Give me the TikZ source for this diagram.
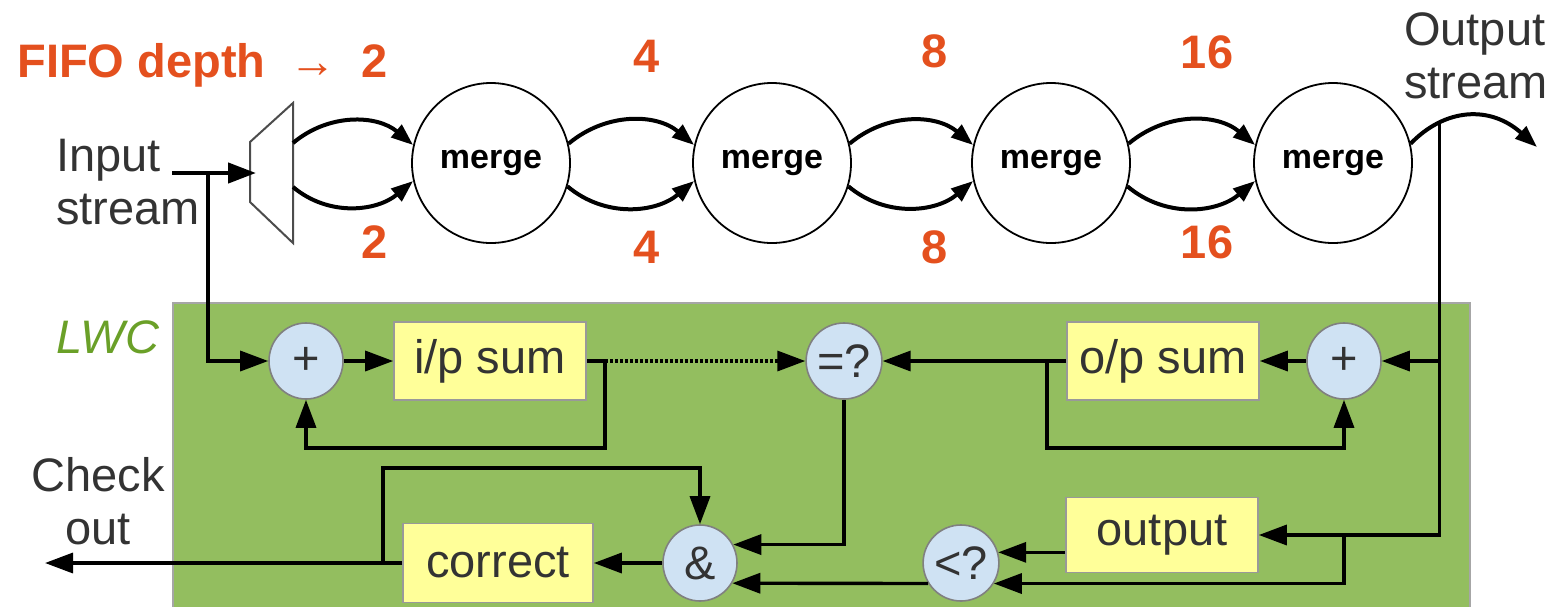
\documentclass[tikz,border=0pt]{standalone}
\usepackage{fontspec}
\setmainfont{Liberation Sans}
\usetikzlibrary{arrows.meta,shapes.geometric,calc}
\definecolor{fifo}{RGB}{228,80,30}
\definecolor{lwcg}{RGB}{147,190,95}
\definecolor{lwct}{RGB}{106,160,40}
\definecolor{bubc}{RGB}{207,226,243}
\definecolor{boxy}{RGB}{255,255,153}
\definecolor{txt}{RGB}{51,51,51}
\newcommand\bigf{\fontsize{23.5}{26.5}\selectfont}
\begin{document}
\begin{tikzpicture}[x=0.5pt,y=-0.5pt,
  arr/.style={-{Triangle[length=14pt,width=10pt]}, line width=1.7pt},
  carr/.style={-{Triangle[length=11pt,width=8pt]}, line width=2pt},
  mergec/.style={ellipse, draw, line width=0.9pt, minimum width=79pt, minimum height=80pt, inner sep=0pt, font=\fontsize{17}{20}\selectfont\bfseries},
  bub/.style={ellipse, draw=gray, fill=bubc, line width=0.8pt, minimum width=37pt, minimum height=38pt, inner sep=0pt, font=\bigf, text=txt},
  ybox/.style={rectangle, draw=gray!80, fill=boxy, line width=0.8pt, minimum width=96pt, minimum height=39pt, inner sep=0pt, font=\bigf, text=txt},
  fnum/.style={anchor=base, inner sep=0pt, font=\bigf\bfseries, text=fifo},
  lbl/.style={font=\bigf, text=txt}
]
\useasboundingbox (0,0) rectangle (1555,607);
% LWC region
\fill[lwcg] (173,303) rectangle (1470,607);
\draw[gray!70, line width=0.8pt] (173,607) -- (173,303) -- (1470,303) -- (1470,607);
\node[anchor=base west, inner sep=0pt, font=\bigf\itshape, text=lwct] (lwc) at (56,353) {LWC};

% top labels
\node[anchor=base west, inner sep=0pt, font=\bigf\bfseries, text=fifo] (fifo) at (17,77) {FIFO depth\hspace{12pt}{\mdseries →}};
\node[fnum] (t2) at (375,77) {2};
\node[fnum] (t4) at (647,72) {4};
\node[fnum] (t8) at (935,67) {8};
\node[fnum] (t16) at (1207,68) {16};
\node[fnum] (b2) at (375,258) {2};
\node[fnum] (b4) at (647,263) {4};
\node[fnum] (b8) at (935,263) {8};
\node[fnum] (b16) at (1207,258) {16};

% stream labels
\node[lbl, align=left] (ins) at (128,182) {Input\\stream};
\node[lbl, align=left] (outs) at (1476,56) {Output\\stream};
\node[lbl, align=center] (chk) at (98,501) {Check\\out};

% merge network
\node[mergec] (m1) at (491,163) {merge};
\node[mergec] (m2) at (772,163) {merge};
\node[mergec] (m3) at (1051,163) {merge};
\node[mergec] (m4) at (1333,163) {merge};

\draw[gray!60!black, line width=1pt] (250,142) -- (293,103) -- (293,243) -- (250,202) -- cycle;
\coordinate (mxin) at (256,173);
\coordinate (mxa) at (293,143);
\coordinate (mxb) at (293,187);
\coordinate (inp) at (172,173);
\coordinate (ibr) at (208,173);
\draw[arr, line width=2.2pt] (inp) -- (mxin);
\draw[carr] (mxa) to[out=40,in=140] (m1.167);
\draw[carr] (mxb) to[out=-40,in=-140] (m1.193);
\foreach \a/\b in {m1/m2,m2/m3,m3/m4}{
  \draw[carr] (\a.14) to[out=40,in=140] (\b.167);
  \draw[carr] (\a.-17) to[out=-40,in=-140] (\b.193);
}
\coordinate (oend) at (1537,147);
\draw[carr] (m4.14) .. controls (1445,108) and (1490,105) .. (oend) coordinate[pos=0.26] (otap);

% LWC blocks
\node[bub] (pl1) at (306,361) {+};
\node[ybox] (ips) at (490,361) {i/p sum};
\node[bub] (eq) at (844,361) {=?};
\node[ybox] (ops) at (1163,361) {o/p sum};
\node[bub] (pl2) at (1344,361) {+};
\node[ybox, minimum height=37.5pt] (outb) at (1162,535) {output};
\node[bub] (lt) at (961,563) {<?};
\node[bub] (amp) at (700,563) {\&};
\node[ybox, minimum width=95pt, minimum height=39.5pt] (corr) at (498,563) {correct};

% input side
\draw[arr] (ibr) |- (pl1);
\draw[arr] (pl1) -- (ips);
\coordinate (ipfb) at (605,361);
\coordinate (ipfb2) at (605,448);
\draw[arr] (ips.east) -- (ipfb) -- (ipfb2) -| (pl1.south);
\draw[arr, dash pattern=on 1.5pt off 1pt] (ipfb) -- (eq);

% output side
\draw[arr] (otap) |- (outb);
\draw[arr] (otap |- pl2) -- (pl2);
\draw[arr] (pl2) -- (ops);
\draw[arr] (ops) -- (eq);
\coordinate (opfb) at (1047,361);
\coordinate (opfb2) at (1047,448);
\draw[arr] (opfb) -- (opfb2) -| (pl2.south);

% checks
\draw[arr] (outb.west |- lt.16) -- (lt.16);
\draw[arr] (pl2 |- outb) |- (lt.-32);
\draw[arr] (lt.212) -- (amp.-32);
\draw[arr] (eq.south) |- (amp.29);
\draw[arr] (amp) -- (corr);
\coordinate (cout) at (45,563);
\coordinate (cb) at (383,563);
\coordinate (cbt) at (383,468);
\draw[arr] (corr) -- (cout);
\draw[arr] (cb) -- (cbt) -| (amp.north);
\end{tikzpicture}
\end{document}
